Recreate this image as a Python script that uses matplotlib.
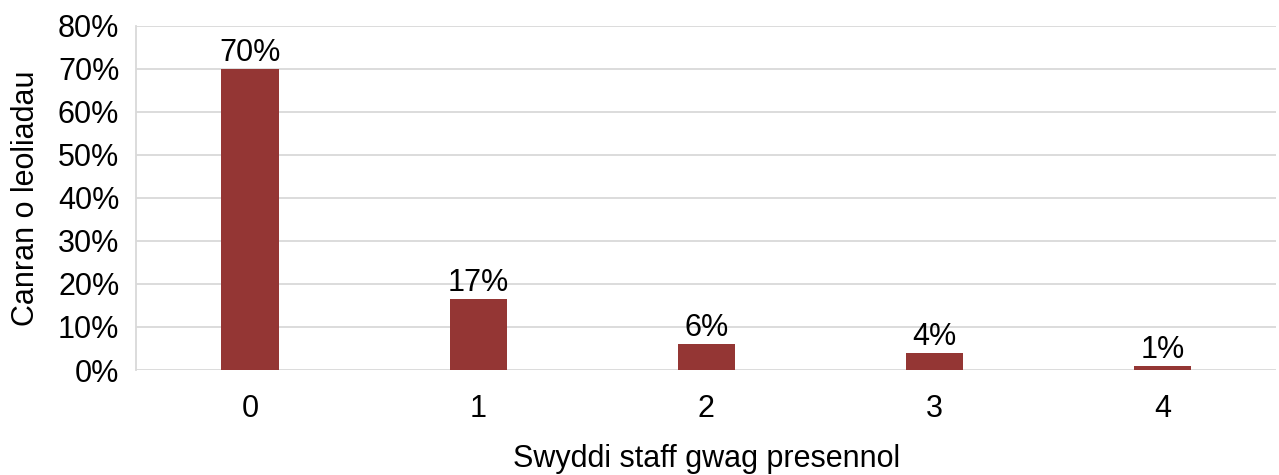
import matplotlib.pyplot as plt
from matplotlib.ticker import PercentFormatter

categories = ["0", "1", "2", "3", "4"]
values = [70.0, 16.5, 6.1, 3.9, 0.9]
value_labels = ["70%", "17%", "6%", "4%", "1%"]
y_ticks = [0, 10, 20, 30, 40, 50, 60, 70, 80]

plt.rcParams['font.family'] = ['Liberation Sans', 'DejaVu Sans']

fig = plt.figure(figsize=(12.79, 4.75), dpi=100)
ax = fig.add_axes([0.1063, 0.221, 0.8917, 0.725])

x = list(range(len(categories)))
bars = ax.bar(x, values, width=0.25, color="#943634", zorder=3)

for b, lab in zip(bars, value_labels):
    ax.text(b.get_x() + b.get_width() / 2, b.get_height() + 0.2, lab,
            ha="center", va="bottom", fontsize=22, color="black")

ax.set_xlim(-0.5, len(categories) - 0.5)
ax.set_ylim(0, 80)
ax.set_yticks(y_ticks)
ax.yaxis.set_major_formatter(PercentFormatter(decimals=0))
ax.set_xticks(x)
ax.set_xticklabels(categories)

ax.grid(axis="y", color="#d9d9d9", linewidth=1.3, zorder=0)
for s in ["top", "right", "bottom"]:
    ax.spines[s].set_visible(False)
ax.spines["left"].set_color("#d9d9d9")
ax.spines["left"].set_linewidth(1.3)

ax.tick_params(axis="y", length=0, pad=12, labelsize=22)
ax.tick_params(axis="x", length=0, pad=17, labelsize=22)

ax.set_ylabel("Canran o leoliadau", fontsize=22, labelpad=12)
ax.set_xlabel("Swyddi staff gwag presennol", fontsize=22, labelpad=15)

fig.savefig("out.png", dpi=100)
